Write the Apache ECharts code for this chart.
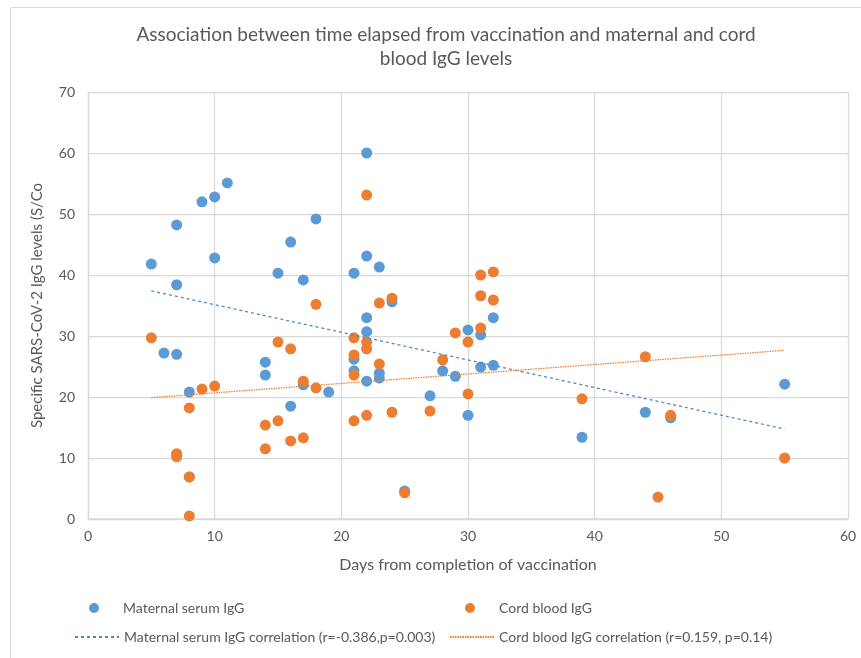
<!DOCTYPE html>
<html><head><meta charset="utf-8">
<script src="https://cdn.jsdelivr.net/npm/echarts@6/dist/echarts.min.js"></script>
<style>html,body{margin:0;padding:0;background:#fff}#c{width:861px;height:658px}</style>
</head><body><div id="c"></div>
<script>
var titleText = 'Association between time elapsed from vaccination and maternal and cord\nblood IgG levels';
var xTicks = [0, 10, 20, 30, 40, 50, 60];
var yTicks = [0, 10, 20, 30, 40, 50, 60, 70];
var maternalDays = [5,6,7,7,7,8,8,9,10,10,11,14,14,15,16,16,17,17,18,19,21,21,21,22,22,22,22,22,23,23,23,24,25,27,28,29,30,30,31,31,32,32,39,44,46,55];
var maternalIgG  = [41.8,27.2,48.2,38.4,27.0,20.8,6.9,52.0,52.8,42.8,55.1,25.7,23.6,40.3,45.4,18.5,39.2,22.0,49.2,20.8,40.3,26.2,24.3,60.0,43.1,33.0,30.7,22.6,41.3,23.9,23.1,35.6,4.6,20.2,24.3,23.4,31.0,17.0,30.2,24.9,33.0,25.2,13.4,17.5,16.6,22.1];
var cordDays = [5,7,7,8,8,8,9,10,14,14,15,15,16,16,17,17,18,18,21,21,21,21,22,22,22,22,23,23,24,24,25,27,28,29,30,30,31,31,31,32,32,39,44,45,46,55];
var cordIgG  = [29.7,10.7,10.2,18.2,6.9,0.5,21.3,21.8,15.4,11.5,29.0,16.1,27.9,12.8,22.6,13.3,35.2,21.5,29.7,26.9,23.6,16.1,53.1,29.0,27.9,17.0,35.4,25.4,36.2,17.5,4.3,17.7,26.1,30.5,29.0,20.5,40.0,36.6,31.3,40.5,35.9,19.7,26.6,3.6,17.0,10.0];
var maternalTrendX = [5, 55];
var maternalTrendY = [37.4, 14.75];
var cordTrendX = [5, 55];
var cordTrendY = [19.9, 27.65];
var names = ['Maternal serum IgG', 'Cord blood IgG', 'Maternal serum IgG correlation (r=-0.386,p=0.003)', 'Cord blood IgG correlation (r=0.159, p=0.14)'];

function zip(a, b) { return a.map(function (v, i) { return [v, b[i]]; }); }
var FONT = 'Lato';
var TXT = '#595959';
var chart = echarts.init(document.getElementById('c'), null, {renderer: 'canvas'});
function legDot(name, left, top) {
  return {data: [{name: name, icon: 'circle'}], left: left, top: top, itemWidth: 48, itemHeight: 10, itemGap: 0, padding: 0,
    textStyle: {color: TXT, fontFamily: FONT, fontSize: 14}, selectedMode: false};
}
function legLine(name, left, top) {
  return {data: [name], left: left, top: top, itemWidth: 44, itemHeight: 10, itemGap: 0, padding: 0,
    itemStyle: {opacity: 0},
    textStyle: {color: TXT, fontFamily: FONT, fontSize: 14}, selectedMode: false};
}
chart.setOption({
  animation: false,
  backgroundColor: '#fff',
  title: {text: titleText, left: 441, textAlign: 'center', top: 18,
    textStyle: {color: TXT, fontFamily: FONT, fontSize: 19, fontWeight: 'normal', lineHeight: 24}},
  graphic: [{type: 'rect', shape: {x: 10.5, y: 7.5, width: 900, height: 700}, style: {fill: 'none', stroke: '#d9d9d9', lineWidth: 1}, silent: true}],
  grid: {left: 88, right: 13, top: 92, bottom: 139, containLabel: false},
  legend: [legDot(names[0], 89, 601), legDot(names[1], 465, 601), legLine(names[2], 74, 630), legLine(names[3], 449, 630)],
  xAxis: {type: 'value', min: xTicks[0], max: xTicks[xTicks.length - 1], interval: 10,
    name: 'Days from completion of vaccination', nameLocation: 'middle', nameGap: 38,
    nameTextStyle: {color: TXT, fontFamily: FONT, fontSize: 16},
    axisLine: {show: true, lineStyle: {color: '#d9d9d9', width: 1.5}}, axisTick: {show: false},
    axisLabel: {color: TXT, fontFamily: FONT, fontSize: 14, margin: 10},
    splitLine: {show: true, lineStyle: {color: '#d9d9d9', width: 1.25}}},
  yAxis: {type: 'value', min: yTicks[0], max: yTicks[yTicks.length - 1], interval: 10,
    name: 'Specific SARS-CoV-2 IgG levels (S/Co', nameLocation: 'middle', nameGap: 43, nameRotate: 90,
    nameTextStyle: {color: TXT, fontFamily: FONT, fontSize: 15},
    axisLine: {show: true, lineStyle: {color: '#d9d9d9', width: 1.25}}, axisTick: {show: false},
    axisLabel: {color: TXT, fontFamily: FONT, fontSize: 14, margin: 13},
    splitLine: {show: true, lineStyle: {color: '#d9d9d9', width: 1.25}}},
  series: [
    {name: names[0], type: 'scatter', data: zip(maternalDays, maternalIgG), symbol: 'circle', symbolSize: 11,
      itemStyle: {color: '#5B9BD5', opacity: 1}, z: 3},
    {name: names[1], type: 'scatter', data: zip(cordDays, cordIgG), symbol: 'circle', symbolSize: 11,
      itemStyle: {color: '#ED7D31', opacity: 1}, z: 4},
    {name: names[2], type: 'line', data: zip(maternalTrendX, maternalTrendY), symbol: 'none', showSymbol: false,
      lineStyle: {color: '#4a87c4', width: 1.25, type: [3, 3]}, itemStyle: {color: '#4a87c4'}, z: 5},
    {name: names[3], type: 'line', data: zip(cordTrendX, cordTrendY), symbol: 'none', showSymbol: false,
      lineStyle: {color: '#ED7D31', width: 1.25, type: [1.5, 1]}, itemStyle: {color: '#ED7D31'}, z: 5}
  ]
});
</script></body></html>
